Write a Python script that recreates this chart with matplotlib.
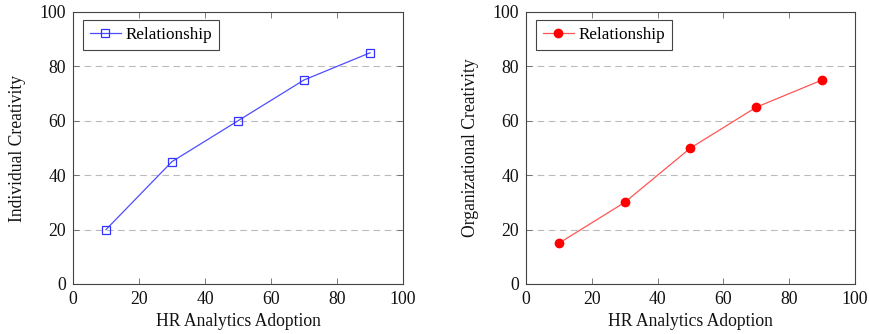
import matplotlib
matplotlib.use("Agg")
import matplotlib.pyplot as plt

adoption = [10, 30, 50, 70, 90]
individual_creativity = [20, 45, 60, 75, 85]
organizational_creativity = [15, 30, 50, 65, 75]
legend_label = "Relationship"
x_label = "HR Analytics Adoption"
y_labels = ["Individual Creativity", "Organizational Creativity"]
ticks = [0, 20, 40, 60, 80, 100]

plt.rcParams['font.family'] = ['Liberation Serif', 'DejaVu Serif']
plt.rcParams['font.size'] = 12

fig = plt.figure(figsize=(8.7, 3.34), dpi=100)
ax1 = fig.add_axes([73/870, 1-284/334, 330/870, 272/334])
ax2 = fig.add_axes([526/870, 1-284/334, 329/870, 272/334])

def style(ax, ylabel):
    ax.set_xlim(0, 100)
    ax.set_ylim(0, 100)
    ax.set_xticks(ticks)
    ax.set_yticks(ticks)
    ax.tick_params(direction='in', top=True, right=True, length=4, width=0.6,
                   labelsize=12.8, colors='#666666', labelcolor='#111111', pad=5)
    ax.yaxis.grid(True, linestyle=(0, (6, 4)), color='#bbbbbb', linewidth=0.8)
    ax.set_axisbelow(True)
    for s in ax.spines.values():
        s.set_color('#444444')
        s.set_linewidth(0.8)
    ax.set_xlabel(x_label, fontsize=12.7, labelpad=4, color='#111111')
    ax.set_ylabel(ylabel, fontsize=12.7, labelpad=10, color='#111111')
    leg = ax.legend(loc='upper left', fancybox=False, edgecolor='#444444', framealpha=1,
                    fontsize=12.3, handlelength=1.8, borderpad=0.4, handletextpad=0.3,
                    borderaxespad=0, bbox_to_anchor=(10/330, 1-8/272))
    leg.get_frame().set_linewidth(0.8)

ax1.plot(adoption, individual_creativity, color='#4d4dff', lw=0.9, marker='s',
         markersize=6, markerfacecolor='none', markeredgecolor='#3333ff', markeredgewidth=0.9,
         label=legend_label)
style(ax1, y_labels[0])

ax2.plot(adoption, organizational_creativity, color='#ff5555', lw=0.9, marker='o',
         markersize=6, markerfacecolor='red', markeredgecolor='red',
         label=legend_label)
style(ax2, y_labels[1])

fig.savefig('out.png', dpi=100)
